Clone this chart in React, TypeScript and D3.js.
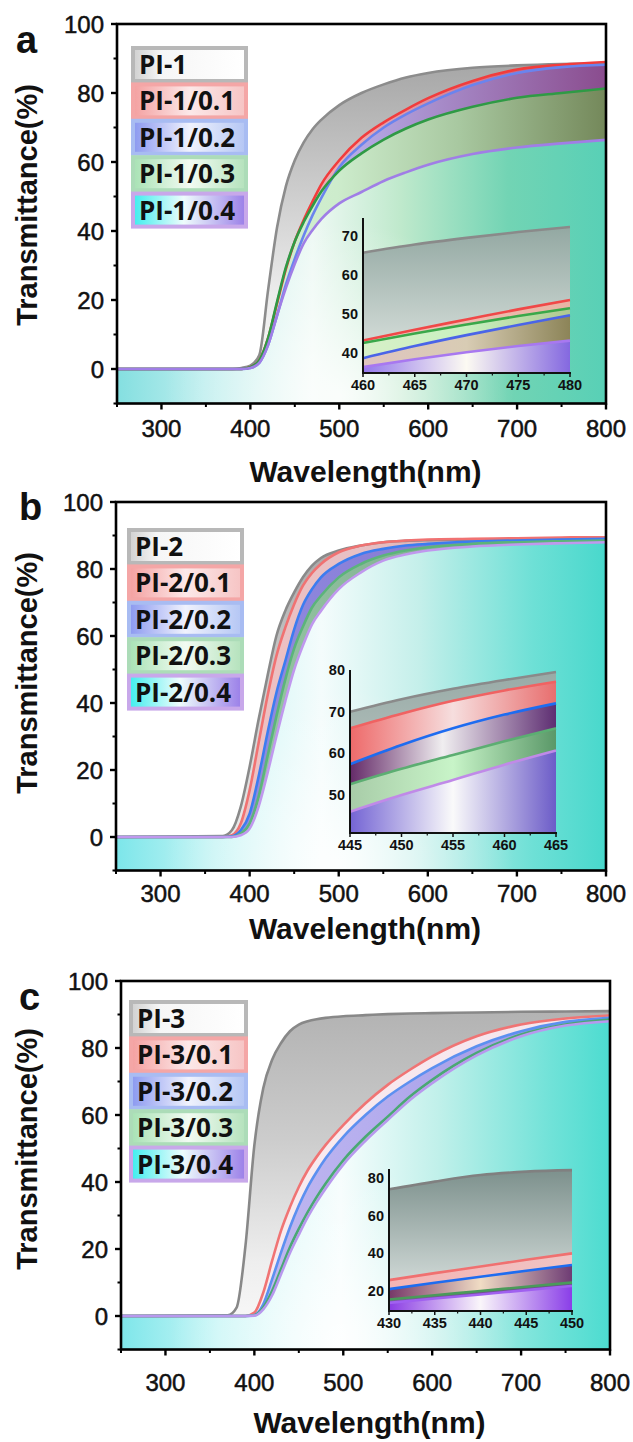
import React from "react";
import * as d3 from "d3";

// ---------------- DATA ----------------
const WL = [250, 370, 380, 390, 400, 410, 420, 430, 440, 450, 460, 470, 480, 500, 525, 550, 575, 600, 650, 700, 750, 800];

const PI1 = [0, 0, 0, 0.3, 1, 4, 23, 41, 53, 60.5, 65.7, 69.5, 72.3, 76.5, 80, 82.5, 84.5, 85.8, 87.3, 88, 88.4, 88.6];
const PI1_01 = [0, 0, 0, 0, 0.5, 2.5, 9, 19, 29, 37, 43.2, 48.6, 53.6, 60.5, 67, 71.5, 75.2, 78.5, 83.5, 86.8, 88.2, 89];
const PI1_02 = [0, 0, 0, 0, 0.3, 1.8, 7, 15.5, 24.5, 32, 38.7, 44.6, 49.7, 58.5, 65, 70, 73.8, 77, 82.3, 85.8, 87.5, 88.2];
const PI1_03 = [0, 0, 0, 0, 0.5, 2.5, 9, 19.5, 29.5, 37, 42.6, 47.3, 51.5, 57.5, 62.5, 66.5, 69.7, 72.3, 76, 78.6, 80, 81.3];
const PI1_04 = [0, 0, 0, 0, 0.3, 1.8, 7, 15.5, 23.5, 30.5, 36.4, 40.3, 43.5, 48, 51.3, 54.5, 57, 59.2, 62.3, 64.2, 65.4, 66.4];

const PI2 = [0, 0.3, 2, 9, 21, 35, 48, 60, 67.5, 73, 77.6, 81, 83.3, 85.5, 87, 88, 88.4, 88.6, 88.8, 89, 89.2, 89.3];
const PI2_01 = [0, 0, 0.5, 4, 14, 28, 42, 54, 62.5, 69.5, 75.1, 78.8, 81.5, 85, 87, 88, 88.5, 88.8, 89, 89.2, 89.4, 89.5];
const PI2_02 = [0, 0, 0.2, 2, 7, 18, 31, 43, 52.5, 62, 69.3, 74, 77.5, 81.5, 84.5, 86, 87, 87.5, 88.2, 88.5, 88.8, 89];
const PI2_03 = [0, 0, 0, 1, 4, 12, 24, 36, 47, 56.3, 62.9, 68.5, 72, 77.5, 81.5, 84, 85.5, 86.5, 87.5, 88, 88.3, 88.5];
const PI2_04 = [0, 0, 0, 0.5, 2.5, 9, 19, 30, 40.5, 50, 57.3, 63.5, 67.5, 74, 79, 82.5, 84.3, 85.5, 86.7, 87.3, 87.7, 88];

const PI3 = [0, 0.2, 2.5, 21, 51, 68, 76.5, 81.5, 85, 87, 88, 88.6, 89, 89.5, 89.8, 90.1, 90.3, 90.4, 90.6, 90.8, 90.9, 91];
const PI3_01 = [0, 0, 0, 0, 1, 7, 16.5, 25.5, 32.5, 38.5, 43.5, 47.5, 51, 57, 63.5, 69, 73.5, 77.5, 83.5, 87, 88.8, 89.7];
const PI3_02 = [0, 0, 0, 0, 0.3, 3.5, 11, 19, 26.5, 33, 38.5, 43, 47, 53.5, 60, 65.5, 70, 74, 80.5, 85, 87.8, 89];
const PI3_03 = [0, 0, 0, 0, 0.2, 2.5, 7.5, 14, 20.5, 26, 31, 35.5, 39.5, 46.5, 53.5, 59.5, 65.5, 70.5, 78.5, 84, 87, 88.5];
const PI3_04 = [0, 0, 0, 0, 0.1, 2, 6.2, 12.5, 18.8, 24.3, 29.5, 34, 38, 45.2, 52.3, 58.5, 64.5, 69.5, 77.8, 83.5, 86.7, 88];

const INSET_A_WL = [460, 465, 470, 475, 480];
const INSET_A_PI1 = [65.7, 67.8, 69.5, 71.0, 72.3];
const INSET_A_PI1_01 = [43.2, 46.0, 48.6, 51.2, 53.6];
const INSET_A_PI1_02 = [38.7, 41.8, 44.6, 47.2, 49.7];
const INSET_A_PI1_03 = [42.6, 45.0, 47.3, 49.5, 51.5];
const INSET_A_PI1_04 = [36.4, 38.4, 40.2, 41.8, 43.2];

const INSET_B_WL = [445, 450, 455, 460, 465];
const INSET_B_PI2 = [70.0, 73.0, 75.5, 77.6, 79.5];
const INSET_B_PI2_01 = [66.0, 69.5, 72.6, 75.1, 77.2];
const INSET_B_PI2_02 = [57.4, 62.0, 66.0, 69.3, 72.0];
const INSET_B_PI2_03 = [52.6, 56.3, 59.6, 62.9, 66.0];
const INSET_B_PI2_04 = [46.0, 50.0, 53.6, 57.3, 60.7];

const INSET_C_WL = [430, 435, 440, 445, 450];
const INSET_C_PI3 = [74.0, 78.1, 81.6, 83.4, 84.2];
const INSET_C_PI3_01 = [25.8, 29.5, 33.0, 36.6, 40.0];
const INSET_C_PI3_02 = [21.0, 24.4, 27.6, 30.8, 33.8];
const INSET_C_PI3_03 = [15.5, 17.8, 20.0, 22.3, 24.5];
const INSET_C_PI3_04 = [13.7, 16.0, 18.2, 20.5, 22.7];

const X_TICKS = [300, 400, 500, 600, 700, 800];
const X_MINOR = [250, 350, 450, 550, 650, 750];
const Y_TICKS = [0, 20, 40, 60, 80, 100];
const Y_MINOR = [-10, 10, 30, 50, 70, 90];

const LEGEND_A = ["PI-1", "PI-1/0.1", "PI-1/0.2", "PI-1/0.3", "PI-1/0.4"];
const LEGEND_B = ["PI-2", "PI-2/0.1", "PI-2/0.2", "PI-2/0.3", "PI-2/0.4"];
const LEGEND_C = ["PI-3", "PI-3/0.1", "PI-3/0.2", "PI-3/0.3", "PI-3/0.4"];

const INSET_A_XT = [460, 465, 470, 475, 480];
const INSET_A_YT = [40, 50, 60, 70];
const INSET_B_XT = [445, 450, 455, 460, 465];
const INSET_B_YT = [50, 60, 70, 80];
const INSET_C_XT = [430, 435, 440, 445, 450];
const INSET_C_YT = [20, 40, 60, 80];

// ---------------- STYLE / LAYOUT ----------------
const FONT = "'Liberation Sans', Arial, Helvetica, sans-serif";
const LEG_FONT = "'Open Sans', 'Liberation Sans', sans-serif";

type Stop = [number, string];
type Band = { dir: "h" | "v"; stops: Stop[] };

const LEG_BORDER = ["#b8b8b8", "#f4a6a6", "#a8bcf2", "#acdcb8", "#c8a8ea"];
const LEG_FILL: Stop[][] = [
  [[0, "#d0d0d0"], [0.25, "#f6f6f6"], [1, "#ffffff"]],
  [[0, "#f4a0a0"], [0.5, "#fce8e8"], [1, "#f6c4c4"]],
  [[0, "#8a98f0"], [0.5, "#f0f2fd"], [1, "#b4c6f4"]],
  [[0, "#a8e2b4"], [0.5, "#f2fbf2"], [1, "#b4e2bc"]],
  [[0, "#3eeeee"], [0.45, "#eefcfc"], [1, "#9a7ee8"]],
];

const PANELS = [
  {
    key: "a", letter: "a", letterX: 16, letterY: 53, titleY: 205,
    x0: 117, x1: 606, yt: 24, yb: 403.5, xLabBase: 437, xTitleBase: 482,
    legX: 133, legY: 48, legW: 113, labels: LEGEND_A,
    series: [PI1, PI1_01, PI1_02, PI1_03, PI1_04],
    lineColors: ["#8c8c8c", "#f23c3c", "#6a84ee", "#2f9a45", "#a07ee6"],
    bands: [
      { dir: "v", stops: [[0, "#a0a0a0"], [0.35, "#c6c6c6"], [0.7, "#ececec"], [1, "#fafafa"]] },
      { dir: "h", stops: [[0, "#f2c4c4"], [0.5, "#e8a8b0"], [1, "#b84870"]] },
      { dir: "h", stops: [[0, "#c4c4f4"], [0.5, "#b4a8e4"], [1, "#8a4c8e"]] },
      { dir: "h", stops: [[0, "#dcf4dc"], [0.45, "#cdeccc"], [0.7, "#a8c8a0"], [1, "#74885a"]] },
      { dir: "h", stops: [[0, "#84dfe0"], [0.18, "#bdeeee"], [0.4, "#eef9f4"], [0.58, "#bfe9cc"], [0.8, "#72d4b4"], [1, "#58d0b6"]] },
    ] as Band[],
    inset: {
      x0: 363, x1: 570, yt: 218, yb: 373, xDom: [460, 480], yDom: [34.9, 74.6],
      wl: INSET_A_WL, xt: INSET_A_XT, yt2: INSET_A_YT,
      series: [INSET_A_PI1, INSET_A_PI1_01, INSET_A_PI1_02, INSET_A_PI1_03, INSET_A_PI1_04],
      lineColors: ["#8a8a8a", "#f04848", "#4a64e8", "#3aa84a", "#a878f0"],
      bands: [
        { dir: "v", stops: [[0, "#8ea49e"], [1, "#e2e8e4"]] },
        { dir: "h", stops: [[0, "#f4c4bc"], [1, "#e8b4a4"]] },
        { dir: "h", stops: [[0, "#e0c4c0"], [0.5, "#d8ccb4"], [1, "#8c8458"]] },
        { dir: "h", stops: [[0, "#d8f0c8"], [0.5, "#c8f0c0"], [1, "#b0c890"]] },
        { dir: "h", stops: [[0, "#9478ec"], [0.5, "#fcfaf2"], [1, "#8468e0"]] },
      ] as Band[],
    },
  },
  {
    key: "b", letter: "b", letterX: 19, letterY: 520, titleY: 673,
    x0: 116, x1: 606, yt: 502, yb: 870.5, xLabBase: 902, xTitleBase: 939,
    legX: 129, legY: 530, legW: 113, labels: LEGEND_B,
    series: [PI2, PI2_01, PI2_02, PI2_03, PI2_04],
    lineColors: ["#8a8a8a", "#f07272", "#3c7cf0", "#5cb47a", "#c098ee"],
    bands: [
      { dir: "v", stops: [[0, "#a0a0a0"], [0.5, "#d0d0d0"], [1, "#f0f0f0"]] },
      { dir: "h", stops: [[0, "#f4c0c0"], [0.5, "#e8c0c4"], [1, "#c89090"]] },
      { dir: "h", stops: [[0, "#9898e8"], [0.5, "#8a80d8"], [1, "#7a70c8"]] },
      { dir: "h", stops: [[0, "#a8d8b0"], [0.5, "#88b898"], [1, "#70a080"]] },
      { dir: "h", stops: [[0, "#7ce6ea"], [0.2, "#c4f4f4"], [0.42, "#f4fcfc"], [0.62, "#c4efea"], [0.85, "#6ee0d6"], [1, "#48d8cc"]] },
    ] as Band[],
    inset: {
      x0: 350, x1: 556, yt: 670, yb: 833, xDom: [445, 465], yDom: [40.9, 80],
      wl: INSET_B_WL, xt: INSET_B_XT, yt2: INSET_B_YT,
      series: [INSET_B_PI2, INSET_B_PI2_01, INSET_B_PI2_02, INSET_B_PI2_03, INSET_B_PI2_04],
      lineColors: ["#8a8a8a", "#f06262", "#1e6cf0", "#5cae72", "#c08ae8"],
      bands: [
        { dir: "v", stops: [[0, "#98aaa6"], [1, "#c8d2ce"]] },
        { dir: "h", stops: [[0, "#ee6a6a"], [0.5, "#f6dede"], [1, "#e86e6e"]] },
        { dir: "h", stops: [[0, "#642a68"], [0.45, "#f0eef0"], [1, "#5e2e72"]] },
        { dir: "h", stops: [[0, "#a8cca8"], [0.5, "#c8f4c8"], [1, "#5a9868"]] },
        { dir: "h", stops: [[0, "#7464d4"], [0.5, "#fafafa"], [1, "#6c5cc8"]] },
      ] as Band[],
    },
  },
  {
    key: "c", letter: "c", letterX: 19, letterY: 1010, titleY: 1149,
    x0: 121, x1: 610, yt: 981, yb: 1349.5, xLabBase: 1391, xTitleBase: 1433,
    legX: 131, legY: 1002, legW: 115, labels: LEGEND_C,
    series: [PI3, PI3_01, PI3_02, PI3_03, PI3_04],
    lineColors: ["#888888", "#f07474", "#5c90f0", "#4aa874", "#b898ee"],
    bands: [
      { dir: "v", stops: [[0, "#b0b0b0"], [0.4, "#cccccc"], [0.75, "#eeeeee"], [1, "#fbfbfb"]] },
      { dir: "h", stops: [[0, "#fbeef0"], [1, "#f4e4ec"]] },
      { dir: "h", stops: [[0, "#ccc4f4"], [0.5, "#b6aeee"], [1, "#9890e4"]] },
      { dir: "h", stops: [[0, "#b0e0c0"], [1, "#90d0b0"]] },
      { dir: "h", stops: [[0, "#7ee6ea"], [0.2, "#c8f6f6"], [0.45, "#f6fdfd"], [0.65, "#c0f0ea"], [0.88, "#70e2d8"], [1, "#4cdcd0"]] },
    ] as Band[],
    inset: {
      x0: 389, x1: 572, yt: 1169, yb: 1311, xDom: [430, 450], yDom: [9.4, 84.8],
      wl: INSET_C_WL, xt: INSET_C_XT, yt2: INSET_C_YT,
      series: [INSET_C_PI3, INSET_C_PI3_01, INSET_C_PI3_02, INSET_C_PI3_03, INSET_C_PI3_04],
      lineColors: ["#808080", "#f07070", "#1e6cf0", "#4a9a5a", "#a060f0"],
      bands: [
        { dir: "v", stops: [[0, "#7c908c"], [1, "#e4eae8"]] },
        { dir: "h", stops: [[0, "#f4b4b4"], [1, "#f0c4c4"]] },
        { dir: "h", stops: [[0, "#763868"], [0.5, "#f0dcc4"], [1, "#6e3c74"]] },
        { dir: "h", stops: [[0, "#7a5a9a"], [1, "#6a4a8a"]] },
        { dir: "h", stops: [[0, "#8a3ce4"], [0.5, "#faf6fa"], [1, "#8a3ee8"]] },
      ] as Band[],
    },
  },
];

function Grad({ id, band, x0, x1, y0, y1 }: any) {
  const pos = band.dir === "h" ? { x1: x0, x2: x1, y1: 0, y2: 0 } : { x1: 0, x2: 0, y1: y0, y2: y1 };
  return (
    <linearGradient id={id} gradientUnits="userSpaceOnUse" {...pos}>
      {band.stops.map((s: Stop, i: number) => (
        <stop key={i} offset={s[0]} stopColor={s[1]} />
      ))}
    </linearGradient>
  );
}

function orderOf(series: number[][]) {
  return d3.range(series.length).sort((a, b) => (d3.mean(series[b]) as number) - (d3.mean(series[a]) as number));
}

function Inset({ s, pid }: any) {
  const x = d3.scaleLinear().domain(s.xDom).range([s.x0, s.x1]);
  const y = d3.scaleLinear().domain(s.yDom).range([s.yb, s.yt]);
  const data = s.series.map((vals: number[]) => s.wl.map((w: number, i: number) => [w, vals[i]] as [number, number]));
  const lineGen = d3.line<[number, number]>().x((d) => x(d[0])).y((d) => y(d[1])).curve(d3.curveMonotoneX);
  const areaGen = d3.area<[number, number]>().x((d) => x(d[0])).y0(s.yb).y1((d) => y(d[1])).curve(d3.curveMonotoneX);
  const order = orderOf(s.series);
  const minor = d3.range(s.xDom[0] + 2.5, s.xDom[1], 5);
  return (
    <g>
      <defs>
        {s.bands.map((b: Band, i: number) => (
          <Grad key={i} id={`ins-${pid}-${i}`} band={b} x0={s.x0} x1={s.x1} y0={s.yt} y1={s.yb} />
        ))}
      </defs>
      {order.map((i: number) => (
        <path key={`a${i}`} d={areaGen(data[i]) as string} fill={`url(#ins-${pid}-${i})`} />
      ))}
      {order.map((i: number) => (
        <path key={`l${i}`} d={lineGen(data[i]) as string} fill="none" stroke={s.lineColors[i]} strokeWidth={2.6} />
      ))}
      <line x1={s.x0} x2={s.x0} y1={s.yt} y2={s.yb} stroke="#111" strokeWidth={2} />
      <line x1={s.x0 - 1} x2={s.x1 + 1} y1={s.yb} y2={s.yb} stroke="#111" strokeWidth={2} />
      {s.xt.map((t: number) => (
        <g key={t}>
          <line x1={x(t)} x2={x(t)} y1={s.yb} y2={s.yb + 4} stroke="#111" strokeWidth={1.5} />
          <text x={x(t)} y={s.yb + 17} textAnchor="middle" fontFamily={FONT} fontWeight="bold" fontSize={14.5} fill="#111">
            {t}
          </text>
        </g>
      ))}
      {minor.map((t: number) => (
        <line key={`m${t}`} x1={x(t)} x2={x(t)} y1={s.yb} y2={s.yb + 2.5} stroke="#111" strokeWidth={1.2} />
      ))}
      {s.yt2.map((t: number) => (
        <text key={`y${t}`} x={s.x0 - 5} y={y(t) + 5} textAnchor="end" fontFamily={FONT} fontWeight="bold" fontSize={14.5} fill="#111">
          {t}
        </text>
      ))}
    </g>
  );
}

function Panel({ p }: any) {
  const x = d3.scaleLinear().domain([250, 800]).range([p.x0, p.x1]);
  const y = d3.scaleLinear().domain([-10, 100]).range([p.yb, p.yt]);
  const data = p.series.map((vals: number[]) => WL.map((w, i) => [w, vals[i]] as [number, number]));
  const lineGen = d3.line<[number, number]>().x((d) => x(d[0])).y((d) => y(d[1])).curve(d3.curveMonotoneX);
  const areaGen = d3.area<[number, number]>().x((d) => x(d[0])).y0(y(-10)).y1((d) => y(d[1])).curve(d3.curveMonotoneX);
  const order = orderOf(p.series);
  const id = p.key;
  const last = p.series.length - 1;
  return (
    <g>
      <defs>
        <clipPath id={`clip-${id}`}>
          <rect x={p.x0} y={p.yt} width={p.x1 - p.x0} height={p.yb - p.yt} />
        </clipPath>
        {p.bands.map((b: Band, i: number) => (
          <Grad key={i} id={`band-${id}-${i}`} band={b} x0={p.x0} x1={p.x1} y0={y(95)} y1={y(-10)} />
        ))}
        <radialGradient id={`glow-${id}`} gradientUnits="userSpaceOnUse" cx={x(500)} cy={y(-8)} r={175}>
          <stop offset={0} stopColor="#ffffff" stopOpacity={0.85} />
          <stop offset={0.55} stopColor="#ffffff" stopOpacity={0.35} />
          <stop offset={1} stopColor="#ffffff" stopOpacity={0} />
        </radialGradient>
        {p.labels.map((_: string, i: number) => (
          <linearGradient key={i} id={`leg-${id}-${i}`} x1="0" x2="1" y1="0" y2="0">
            {LEG_FILL[i].map((s, k) => (
              <stop key={k} offset={s[0]} stopColor={s[1]} />
            ))}
          </linearGradient>
        ))}
      </defs>
      <rect x={p.x0} y={p.yt} width={p.x1 - p.x0} height={p.yb - p.yt} fill="#fff" />
      <g clipPath={`url(#clip-${id})`}>
        {order.map((i: number) => (
          <path key={`a${i}`} d={areaGen(data[i]) as string} fill={`url(#band-${id}-${i})`} />
        ))}
        <path d={areaGen(data[last]) as string} fill={`url(#glow-${id})`} />
        {order.map((i: number) => (
          <path key={`l${i}`} d={lineGen(data[i]) as string} fill="none" stroke={p.lineColors[i]} strokeWidth={2.6} strokeLinejoin="round" />
        ))}
      </g>
      <Inset s={p.inset} pid={id} />
      {/* legend */}
      {p.labels.map((lab: string, i: number) => {
        const ty = p.legY + i * 36.4;
        return (
          <g key={lab}>
            <rect x={p.legX} y={ty} width={p.legW} height={33} fill={`url(#leg-${id}-${i})`} stroke={LEG_BORDER[i]} strokeWidth={4} />
            <text x={p.legX + 6} y={ty + 26} fontFamily={LEG_FONT} fontWeight="bold" fontSize={26} fill="#111">
              {lab}
            </text>
          </g>
        );
      })}
      {/* frame */}
      <rect x={p.x0} y={p.yt} width={p.x1 - p.x0} height={p.yb - p.yt} fill="none" stroke="#000" strokeWidth={2.6} />
      {X_TICKS.map((t) => (
        <g key={t}>
          <line x1={x(t)} x2={x(t)} y1={p.yb} y2={p.yb + 6} stroke="#000" strokeWidth={2.4} />
          <text x={x(t)} y={p.xLabBase} textAnchor="middle" fontFamily={FONT} fontSize={24} fill="#111" stroke="#111" strokeWidth={0.5}>
            {t}
          </text>
        </g>
      ))}
      {X_MINOR.map((t) => (
        <line key={`xm${t}`} x1={x(t)} x2={x(t)} y1={p.yb} y2={p.yb + 3.5} stroke="#000" strokeWidth={2} />
      ))}
      {Y_TICKS.map((t) => (
        <g key={`y${t}`}>
          <line x1={p.x0 - 6} x2={p.x0} y1={y(t)} y2={y(t)} stroke="#000" strokeWidth={2.4} />
          <text x={p.x0 - 13} y={y(t) + 9} textAnchor="end" fontFamily={FONT} fontSize={24} fill="#111" stroke="#111" strokeWidth={0.5}>
            {t}
          </text>
        </g>
      ))}
      {Y_MINOR.map((t) => (
        <line key={`ym${t}`} x1={p.x0 - 3.5} x2={p.x0} y1={y(t)} y2={y(t)} stroke="#000" strokeWidth={2} />
      ))}
      <text x={(p.x0 + p.x1) / 2 + 4} y={p.xTitleBase} textAnchor="middle" fontFamily={FONT} fontWeight="bold" fontSize={30} fill="#111">
        Wavelength(nm)
      </text>
      <text
        x={37}
        y={p.titleY}
        transform={`rotate(-90, 37, ${p.titleY})`}
        textAnchor="middle"
        fontFamily={FONT}
        fontWeight="bold"
        fontSize={29}
        fill="#111"
      >
        Transmittance(%)
      </text>
      <text x={p.letterX} y={p.letterY} fontFamily={FONT} fontWeight="bold" fontSize={38} fill="#111">
        {p.letter}
      </text>
    </g>
  );
}

export default function App() {
  return (
    <svg
      width={633}
      height={1442}
      viewBox="0 0 633 1442"
      style={{ position: "absolute", left: 0, top: 0, background: "#fff" }}
    >
      <rect x={0} y={0} width={633} height={1442} fill="#fff" />
      {PANELS.map((p) => (
        <Panel key={p.key} p={p} />
      ))}
    </svg>
  );
}
